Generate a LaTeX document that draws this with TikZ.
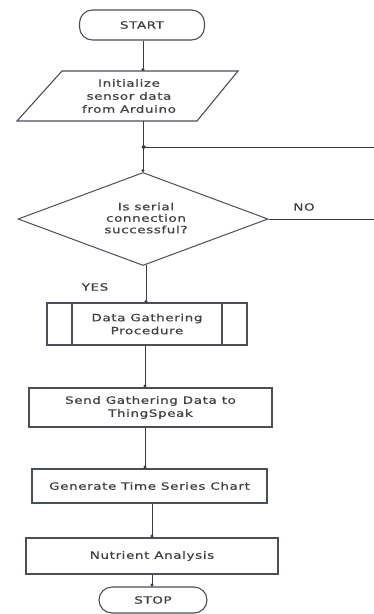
\documentclass[tikz,border=0pt]{standalone}
\usepackage{fontspec}
\newfontfamily\diagfont[FakeStretch=1.35,LetterSpace=6,FakeBold=0.6]{DejaVu Sans}
\usetikzlibrary{shapes.geometric,arrows.meta}
\definecolor{linec}{HTML}{3A3A3A}
\definecolor{boxc}{HTML}{4A4F58}
\definecolor{txtc}{HTML}{404040}
\tikzset{
  every node/.style={font=\diagfont\fontsize{10}{13}\selectfont, text=txtc, align=center},
  term/.style={draw=boxc, line width=1.1pt, rectangle, rounded corners=13pt, inner sep=0pt},
  procbox/.style={draw=boxc, line width=1.1pt, rectangle, inner sep=0pt},
  decis/.style={draw=boxc, line width=1pt, diamond, inner sep=0pt},
  conn/.style={draw=linec, line width=0.8pt, -{Circle[length=3pt]}},
  lbl/.style={inner sep=0pt}
}
\begin{document}
\begin{tikzpicture}[x=1pt,y=-1pt]
\useasboundingbox (0,0) rectangle (374,614);
\fill[white] (0,0) rectangle (374,614);
% START
\node[term, minimum width=125pt, minimum height=30pt] (start) at (142,25) {START};
% parallelogram
\draw[draw=boxc, line width=1.1pt] (62,71) -- (238,71) -- (197,121) -- (17,121) -- cycle;
\coordinate (inittop) at (143,71);
\coordinate (initbot) at (143,121);
\node[lbl] (init) at (129,96) {Initialize\\sensor data\\from Arduino};
% junction
\coordinate (junc) at (143,147);
% decision
\node[decis, minimum width=250pt, minimum height=93pt] (dec) at (143,219) {};
\node[lbl, font=\diagfont\fontsize{10}{11.5}\selectfont] (dectext) at (146,218) {Is serial\\connection\\successful?};
\node[lbl] (no) at (304,207) {NO};
\node[lbl] (yes) at (95,287) {YES};
\coordinate (loopr) at (385,219);
% predefined process
\node[procbox, minimum width=200pt, minimum height=42pt] (dgp) at (147,324) {};
\draw[draw=boxc, line width=1.1pt] (72,303) -- (72,345) (222,303) -- (222,345);
\node[lbl] (dgptext) at (147,324) {Data Gathering\\Procedure};
% send
\node[procbox, minimum width=243pt, minimum height=39pt] (send) at (150.5,407.5) {Send Gathering Data to\\ThingSpeak};
% generate
\node[procbox, minimum width=235pt, minimum height=34pt] (gen) at (149.5,486) {Generate Time Series Chart};
% nutrient
\node[procbox, minimum width=252pt, minimum height=36pt] (nut) at (152,556) {Nutrient Analysis};
% STOP
\node[term, minimum width=108pt, minimum height=26pt] (stop) at (153,600) {STOP};
% connectors
\draw[conn] (start.south -| inittop) -- (inittop);
\draw[draw=linec, line width=0.8pt] (initbot) -- (junc);
\draw[conn] (junc) -- (dec.north);
\fill[linec] (junc) circle (1.6pt);
\draw[conn] (dec.east) -- (loopr) |- (junc);
\draw[conn] (146,265) -- (146,303);
\draw[conn] (dgp.south -| 145,0) -- (send.north -| 145,0);
\draw[conn] (send.south -| 145,0) -- (gen.north -| 145,0);
\draw[conn] (gen.south -| 152,0) -- (nut.north -| 152,0);
\draw[conn] (nut.south -| 152,0) -- (stop.north -| 152,0);
\end{tikzpicture}
\end{document}
